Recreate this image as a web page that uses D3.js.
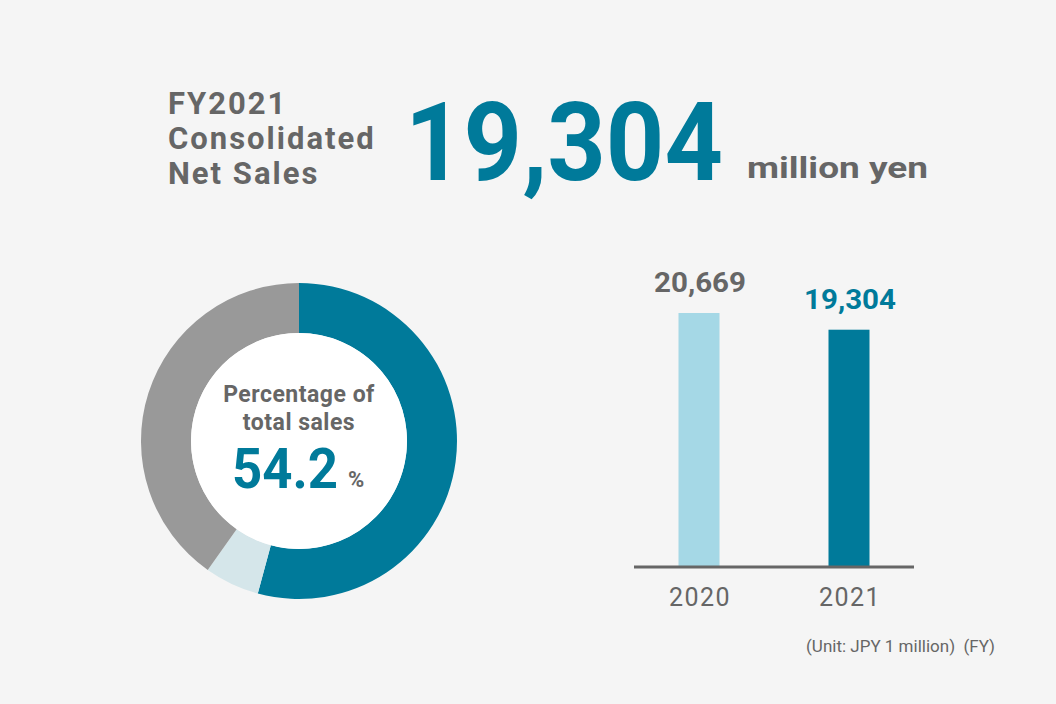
<!DOCTYPE html>
<html><head><meta charset="utf-8">
<script src="https://cdn.jsdelivr.net/npm/d3@7"></script>
<style>body{margin:0;background:#f5f5f5}svg{display:block;font-family:Roboto,sans-serif}</style>
</head><body><svg id="c" width="1056" height="704"></svg>
<script>
var shareLabels = ["Segment", "Other small", "Other"],
    shareValues = [54.2, 5.6, 40.2];
var years = ["2020", "2021"],
    sales = [20669, 19304];

var blue = "#007a9a", grey = "#666";
var svg = d3.select("#c");
svg.append("rect").attr("width", 1056).attr("height", 704).attr("fill", "#f5f5f5");

// title
["FY2021", "Consolidated", "Net Sales"].forEach(function(t, i) {
  svg.append("text").attr("x", 168).attr("y", 114 + i * 35).attr("font-size", 31)
    .attr("font-weight", "bold").attr("fill", grey).attr("letter-spacing", 2).text(t);
});
svg.append("text").attr("x", 405).attr("y", 180).attr("font-size", 110).attr("font-weight", "bold")
  .attr("fill", blue).attr("textLength", 318).attr("lengthAdjust", "spacingAndGlyphs").text("19,304");
svg.append("text").attr("x", 747).attr("y", 178).attr("font-size", 30).attr("font-weight", "bold")
  .attr("fill", grey).attr("textLength", 181).attr("lengthAdjust", "spacingAndGlyphs").text("million yen");

// donut
var pie = d3.pie().sort(null)(shareValues);
var arc = d3.arc().innerRadius(108).outerRadius(158);
var g = svg.append("g").attr("transform", "translate(299,441)");
g.selectAll("path").data(pie).enter().append("path").attr("d", arc)
  .attr("fill", function(d, i) { return [blue, "#d5e6ea", "#999999"][i]; });
g.append("circle").attr("r", 108).attr("fill", "#fff");
g.append("text").attr("y", -39).attr("text-anchor", "middle").attr("font-size", 23).attr("font-weight", "bold").attr("fill", grey).attr("letter-spacing", 0.5).text("Percentage of");
g.append("text").attr("y", -11).attr("text-anchor", "middle").attr("font-size", 23).attr("font-weight", "bold").attr("fill", grey).attr("letter-spacing", 0.5).text("total sales");
g.append("text").attr("x", -67).attr("y", 47).attr("font-size", 56).attr("font-weight", "bold").attr("fill", blue)
  .attr("textLength", 106).attr("lengthAdjust", "spacingAndGlyphs").text(shareValues[0].toFixed(1));
g.append("text").attr("x", 49).attr("y", 46).attr("font-size", 22).attr("font-weight", "bold").attr("fill", grey).text("%");

// bars
var x = d3.scaleBand().domain(years).range([625, 925]).paddingInner(0.5).paddingOuter(0.25);
var y = d3.scaleLinear().domain([0, 20669]).range([566, 313]);
var bw = 41;
svg.selectAll(".bar").data(years).enter().append("rect")
  .attr("x", function(d) { return x(d) + x.bandwidth() / 2 - bw / 2 - 1; })
  .attr("y", function(d, i) { return y(sales[i]); })
  .attr("width", bw).attr("height", function(d, i) { return 566 - y(sales[i]); })
  .attr("fill", function(d, i) { return i ? blue : "#a5d8e6"; });
svg.selectAll(".val").data(years).enter().append("text")
  .attr("x", function(d) { return x(d) + x.bandwidth() / 2 - 46; })
  .attr("y", function(d, i) { return y(sales[i]) - 21; })
  .attr("font-size", 28).attr("font-weight", "bold")
  .attr("fill", function(d, i) { return i ? blue : grey; })
  .attr("textLength", 92).attr("lengthAdjust", "spacingAndGlyphs")
  .text(function(d, i) { return d3.format(",")(sales[i]); });
svg.append("line").attr("x1", 634).attr("x2", 914).attr("y1", 567).attr("y2", 567)
  .attr("stroke", "#666").attr("stroke-width", 3);
svg.selectAll(".yr").data(years).enter().append("text")
  .attr("x", function(d) { return x(d) + x.bandwidth() / 2; }).attr("y", 606)
  .attr("text-anchor", "middle").attr("font-size", 25).attr("fill", grey).attr("letter-spacing", 1.5).text(function(d) { return d; });
svg.append("text").attr("x", 995).attr("y", 652).attr("text-anchor", "end").attr("font-size", 17)
  .attr("fill", grey).attr("xml:space", "preserve").text("(Unit: JPY 1 million)  (FY)");
</script></body></html>
